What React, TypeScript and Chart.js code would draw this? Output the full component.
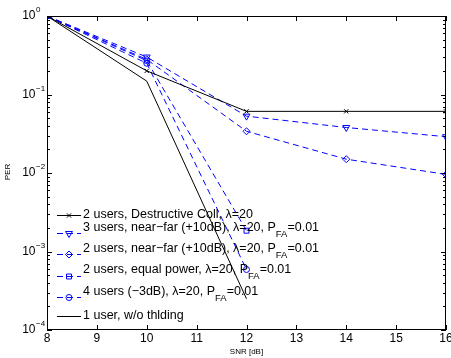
import React, { useEffect, useRef } from 'react';
import { Chart, registerables } from 'chart.js';
Chart.register(...registerables);

// ---- data ----
const snrFull = [8, 10, 12, 14, 16];
const snrShort = [8, 10, 12];
const destructive = [1, 0.2, 0.061, 0.061, 0.061];
const nearFar3 = [1, 0.3, 0.053, 0.038, 0.029];
const nearFar2 = [1, 0.28, 0.034, 0.015, 0.0096];
const equalPower = [1, 0.27, 0.00184];
const fourUsers = [1, 0.25, 0.00059];
const oneUser = [1, 0.148, 0.00025];

const xTicks = [8, 9, 10, 11, 12, 13, 14, 15, 16];
const yTickExps = [0, -1, -2, -3, -4];
const xTitle = 'SNR [dB]';
const yTitle = 'PER';

const labels = [
  '2 users, Destructive Coll, λ=20',
  '3 users, near−far (+10dB), λ=20, P_{FA}=0.01',
  '2 users, near−far (+10dB), λ=20, P_{FA}=0.01',
  '2 users, equal power, λ=20, P_{FA}=0.01',
  '4 users (−3dB), λ=20, P_{FA}=0.01',
  '1 user, w/o thlding',
];

const BLUE = '#0000ff';
const FONT = '"Liberation Sans", Arial, Helvetica, sans-serif';

const pts = (xs: number[], ys: number[]) => xs.map((x, i) => ({ x, y: ys[i] }));

function drawMarker(ctx: CanvasRenderingContext2D, style: string, rot: number, r: number, x: number, y: number) {
  if (!style || r <= 0) return;
  ctx.beginPath();
  if (style === 'triangle') {
    // pointing down when rot=180
    const s = rot === 180 ? -1 : 1;
    ctx.moveTo(x, y - s * r);
    ctx.lineTo(x + r * Math.sin(Math.PI / 3), y + s * r * 0.5);
    ctx.lineTo(x - r * Math.sin(Math.PI / 3), y + s * r * 0.5);
    ctx.closePath();
  } else if (style === 'rectRot') {
    ctx.moveTo(x, y - r);
    ctx.lineTo(x + r, y);
    ctx.lineTo(x, y + r);
    ctx.lineTo(x - r, y);
    ctx.closePath();
  } else if (style === 'rect') {
    const s = r * Math.SQRT1_2;
    ctx.rect(x - s, y - s, 2 * s, 2 * s);
  } else if (style === 'circle') {
    ctx.arc(x, y, r, 0, Math.PI * 2);
  } else if (style === 'crossRot') {
    const s = r * Math.SQRT1_2;
    ctx.moveTo(x - s, y - s);
    ctx.lineTo(x + s, y + s);
    ctx.moveTo(x + s, y - s);
    ctx.lineTo(x - s, y + s);
  }
  ctx.stroke();
}

const legendLineY = [215, 233, 254, 276, 297, 316];
const legendTextY = [215, 228, 249, 270, 292, 316];

const matlabPlugin = {
  id: 'matlabDecor',
  afterDraw(chart: any) {
    const { ctx, chartArea: a, scales } = chart;
    const xs = scales.x;
    const ys = scales.y;
    ctx.save();
    ctx.strokeStyle = '#000';
    ctx.fillStyle = '#000';
    ctx.lineWidth = 1;
    ctx.setLineDash([]);
    // box
    ctx.strokeRect(Math.round(a.left) + 0.5, Math.round(a.top) + 0.5, Math.round(a.right - a.left) - 1, Math.round(a.bottom - a.top) - 1);
    // x ticks
    ctx.beginPath();
    for (const t of xTicks) {
      const px = Math.round(xs.getPixelForValue(t)) + 0.5;
      ctx.moveTo(px, a.top);
      ctx.lineTo(px, a.top + 5);
      ctx.moveTo(px, a.bottom);
      ctx.lineTo(px, a.bottom - 5);
    }
    // y ticks
    for (const e of yTickExps) {
      const py = Math.round(ys.getPixelForValue(Math.pow(10, e))) + 0.5;
      ctx.moveTo(a.left, py);
      ctx.lineTo(a.left + 5, py);
      ctx.moveTo(a.right, py);
      ctx.lineTo(a.right - 5, py);
      if (e > yTickExps[yTickExps.length - 1]) {
        for (let m = 2; m <= 9; m++) {
          const v = m * Math.pow(10, e - 1);
          const pm = Math.round(ys.getPixelForValue(v)) + 0.5;
          ctx.moveTo(a.left, pm);
          ctx.lineTo(a.left + 3, pm);
          ctx.moveTo(a.right, pm);
          ctx.lineTo(a.right - 3, pm);
        }
      }
    }
    ctx.stroke();

    // x tick labels
    ctx.font = `12px ${FONT}`;
    ctx.textAlign = 'center';
    ctx.textBaseline = 'middle';
    for (const t of xTicks) {
      ctx.fillText(String(t), xs.getPixelForValue(t), a.bottom + 8.5);
    }
    // y tick labels
    for (const e of yTickExps) {
      const py = ys.getPixelForValue(Math.pow(10, e));
      ctx.font = `12px ${FONT}`;
      ctx.textAlign = 'right';
      ctx.textBaseline = 'middle';
      ctx.fillText('10', 35.5, py);
      ctx.font = `8px ${FONT}`;
      ctx.textAlign = 'left';
      ctx.fillText(e === 0 ? '0' : '−' + String(-e), 36, py - 6);
    }
    // axis titles
    ctx.font = `8px ${FONT}`;
    ctx.textAlign = 'center';
    ctx.textBaseline = 'middle';
    ctx.fillText(xTitle, (a.left + a.right) / 2, 352);
    ctx.save();
    ctx.translate(8, 172);
    ctx.rotate(-Math.PI / 2);
    ctx.fillText(yTitle, 0, 0);
    ctx.restore();

    // legend
    chart.data.datasets.forEach((ds: any, i: number) => {
      const ly = legendLineY[i];
      ctx.strokeStyle = ds.borderColor;
      ctx.lineWidth = 1;
      ctx.setLineDash(ds.borderDash || []);
      ctx.beginPath();
      ctx.moveTo(57, ly + 0.5);
      ctx.lineTo(81, ly + 0.5);
      ctx.stroke();
      ctx.setLineDash([]);
      if (ds.pointRadius > 0) drawMarker(ctx, ds.pointStyle, ds.pointRotation || 0, ds.pointRadius, 69, ly + 0.5);
      // text
      ctx.fillStyle = '#000';
      ctx.textAlign = 'left';
      ctx.textBaseline = 'middle';
      const parts = String(ds.label).split(/(_\{[^}]*\})/);
      let x = 83;
      const ty = legendTextY[i];
      for (const p of parts) {
        if (!p) continue;
        if (p.startsWith('_{')) {
          const s = p.slice(2, -1);
          ctx.font = `9.5px ${FONT}`;
          ctx.fillText(s, x, ty + 6);
          x += ctx.measureText(s).width;
        } else {
          ctx.font = `12.5px ${FONT}`;
          ctx.fillText(p, x, ty);
          x += ctx.measureText(p).width;
        }
      }
    });
    ctx.restore();
  },
};

export default function App() {
  const ref = useRef<HTMLCanvasElement | null>(null);
  useEffect(() => {
    if (!ref.current) return;
    const blueDash = [6, 4];
    const chart = new Chart(ref.current, {
      type: 'line',
      data: {
        datasets: [
          { label: labels[0], data: pts(snrFull, destructive), borderColor: '#000', borderWidth: 1, pointStyle: 'crossRot', pointRadius: 3, pointBorderColor: '#000', pointBackgroundColor: 'transparent', pointBorderWidth: 1 } as any,
          { label: labels[1], data: pts(snrFull, nearFar3), borderColor: BLUE, borderWidth: 1, borderDash: blueDash, pointStyle: 'triangle', pointRotation: 180, pointRadius: 4, pointBorderColor: BLUE, pointBackgroundColor: 'transparent', pointBorderWidth: 1 },
          { label: labels[2], data: pts(snrFull, nearFar2), borderColor: BLUE, borderWidth: 1, borderDash: blueDash, pointStyle: 'rectRot', pointRadius: 3.5, pointBorderColor: BLUE, pointBackgroundColor: 'transparent', pointBorderWidth: 1 },
          { label: labels[3], data: pts(snrShort, equalPower), borderColor: BLUE, borderWidth: 1, borderDash: blueDash, pointStyle: 'rect', pointRadius: 3.5, pointBorderColor: BLUE, pointBackgroundColor: 'transparent', pointBorderWidth: 1 },
          { label: labels[4], data: pts(snrShort, fourUsers), borderColor: BLUE, borderWidth: 1, borderDash: blueDash, pointStyle: 'circle', pointRadius: 3, pointBorderColor: BLUE, pointBackgroundColor: 'transparent', pointBorderWidth: 1 },
          { label: labels[5], data: pts(snrShort, oneUser), borderColor: '#000', borderWidth: 1, pointRadius: 0 },
        ],
      },
      options: {
        animation: false,
        responsive: false,
        maintainAspectRatio: false,
        parsing: true,
        layout: { padding: { left: 47, right: 4, top: 16, bottom: 28 } },
        elements: { line: { tension: 0, fill: false } },
        scales: {
          x: { type: 'linear', min: 8, max: 16, display: false },
          y: { type: 'logarithmic', min: 1e-4, max: 1, display: false },
        },
        plugins: { legend: { display: false }, tooltip: { enabled: false } },
      },
      plugins: [matlabPlugin],
    });
    return () => chart.destroy();
  }, []);
  return (
    <div style={{ position: 'absolute', left: 0, top: 0, width: 451, height: 358, background: '#fff' }}>
      <canvas ref={ref} width={451} height={358} style={{ width: 451, height: 358 }} />
    </div>
  );
}
